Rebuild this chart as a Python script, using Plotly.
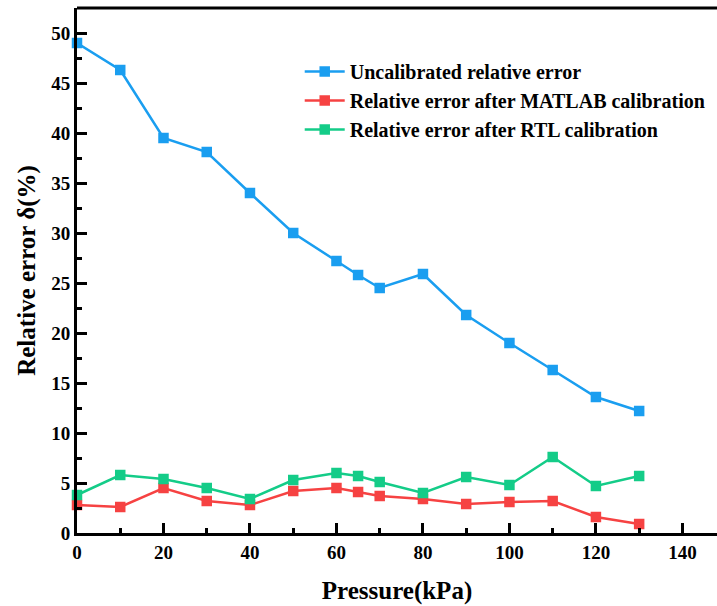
import plotly.graph_objects as go

pressure = [0, 10, 20, 30, 40, 50, 60, 65, 70, 80, 90, 100, 110, 120, 130]
uncalibrated = [49.0, 46.3, 39.5, 38.1, 34.0, 30.0, 27.2, 25.8, 24.5, 25.9, 21.8, 19.0, 16.3, 13.6, 12.2]
matlab_cal = [2.8, 2.6, 4.5, 3.2, 2.8, 4.2, 4.5, 4.1, 3.7, 3.4, 2.9, 3.1, 3.2, 1.6, 0.9]
rtl_cal = [3.8, 5.8, 5.4, 4.5, 3.4, 5.3, 6.0, 5.7, 5.1, 4.0, 5.6, 4.8, 7.6, 4.7, 5.7]

names = ["Uncalibrated relative error",
         "Relative error after MATLAB calibration",
         "Relative error after RTL calibration"]
colors = ["#1A9EF0", "#F64242", "#14CC88"]
series = [uncalibrated, matlab_cal, rtl_cal]

font_family = "Liberation Serif, Times New Roman, serif"

fig = go.Figure()
for name, vals, col in zip(names, series, colors):
    fig.add_trace(go.Scatter(
        x=pressure, y=vals, mode="lines+markers", name=name,
        line=dict(color=col, width=2.5),
        marker=dict(symbol="square", size=10.5, color=col),
        cliponaxis=False,
    ))

axis_common = dict(
    showline=True, linecolor="black", linewidth=3,
    ticks="inside", tickwidth=2.5, ticklen=10, tickcolor="black",
    showgrid=False, zeroline=False,
    tickfont=dict(family=font_family, size=19, color="black", weight="bold"),
)

fig.update_layout(
    width=717, height=606,
    margin=dict(l=77, r=0, t=8, b=73),
    plot_bgcolor="white", paper_bgcolor="white",
    font=dict(family=font_family, color="black"),
    xaxis=dict(
        range=[0, 148], tickvals=[0, 20, 40, 60, 80, 100, 120, 140],
        minor=dict(tickvals=[10, 30, 50, 70, 90, 110, 130], ticklen=5, tickwidth=2.5,
                   tickcolor="black", ticks="inside"),
        title=dict(text="Pressure(kPa)", standoff=20,
                   font=dict(family=font_family, size=25, color="black", weight="bold")),
        **axis_common,
    ),
    yaxis=dict(
        range=[0, 52.5], tickvals=[0, 5, 10, 15, 20, 25, 30, 35, 40, 45, 50],
        minor=dict(tickvals=[2.5 + 5 * i for i in range(10)], ticklen=5, tickwidth=2.5,
                   tickcolor="black", ticks="inside"),
        title=dict(text="Relative error δ(%)", standoff=9,
                   font=dict(family=font_family, size=25, color="black", weight="bold")),
        **axis_common,
    ),
    legend=dict(
        x=0.348, y=0.916, xanchor="left", yanchor="top",
        bgcolor="rgba(0,0,0,0)", borderwidth=0,
        font=dict(family=font_family, size=20, color="black", weight="bold"),
        tracegroupgap=0, itemwidth=40,
    ),
    showlegend=True,
)

fig.add_shape(type="line", xref="paper", yref="paper", x0=0, x1=1, y0=1, y1=1,
              line=dict(color="black", width=3))

fig.write_html("out.html", config={"displayModeBar": False},
               post_script="document.body.style.margin='0';document.body.style.overflow='hidden';")
